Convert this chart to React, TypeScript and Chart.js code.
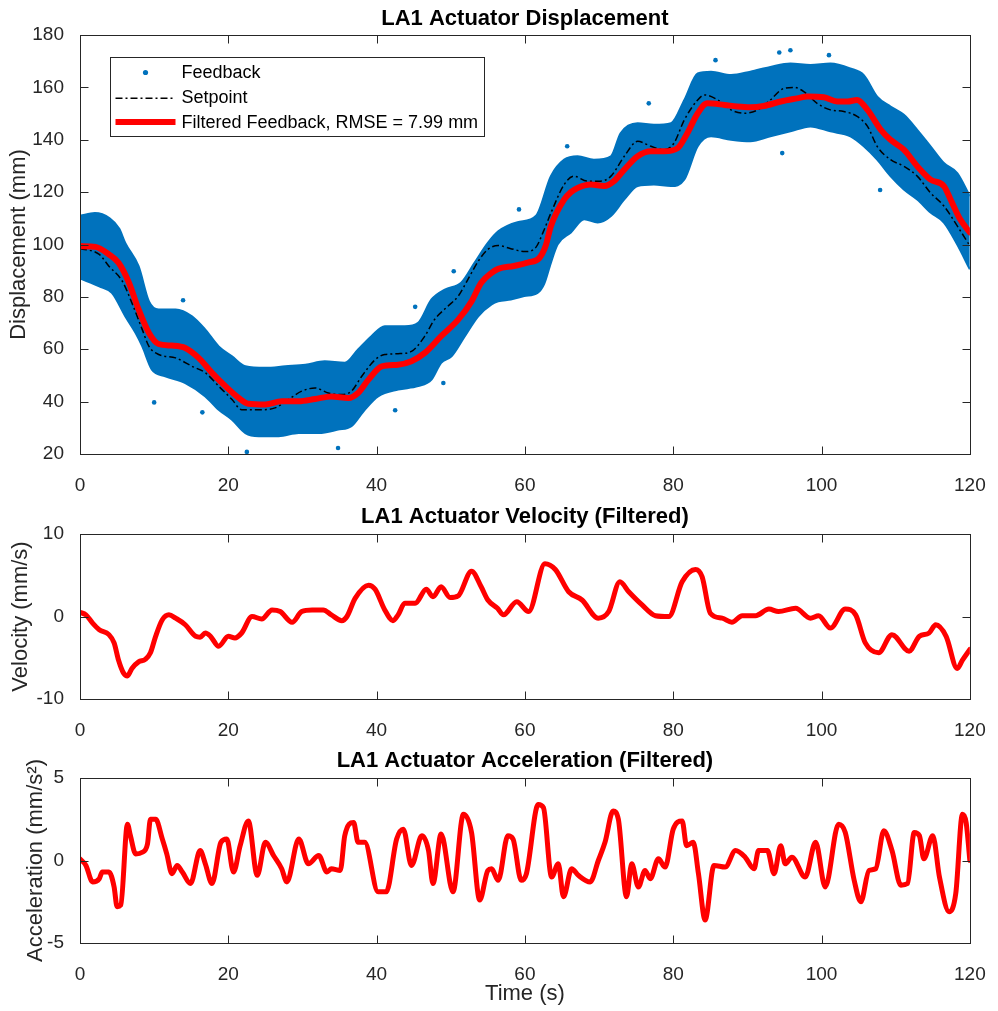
import React, { useEffect, useRef } from 'react';
import { Chart, registerables } from 'chart.js';

Chart.register(...registerables);

const FONT = '"Liberation Sans", Arial, Helvetica, sans-serif';
const AXIS = '#262626';
const BLUE = '#0072BD';
const RED = '#FF0000';

// ---------- tick labels ----------
const timeTicks = [0, 20, 40, 60, 80, 100, 120];
const displacementTicks = [20, 40, 60, 80, 100, 120, 140, 160, 180];
const velocityTicks = [-10, 0, 10];
const accelerationTicks = [-5, 0, 5];

// ---------- displacement: setpoint ----------
const setpointTime = [0, 2.6, 3.9, 5.7, 7, 8.4, 9.3, 10.6, 12.9, 15.1, 16.9, 18.7, 20.5, 21.8, 24.1, 26.3, 28.1, 29.9, 31.7, 33.5, 35.3, 36.6, 38, 39.8, 41.1, 42.9, 44.7, 46.5, 47.8, 49.6, 51, 52.3, 53.7, 55, 56.4, 58, 60, 61.5, 62.5, 63.5, 65.3, 66.6, 68.4, 70.2, 71.6, 73.4, 75.2, 77, 78.8, 80.1, 81.5, 83.3, 84.2, 86, 87.8, 89.6, 91.4, 93.1, 94.9, 96.3, 97.6, 99.4, 101.2, 103, 104.8, 106.2, 107.5, 109.3, 111.1, 112.9, 114.7, 116.5, 118.3, 120];
const setpointPos = [98.5, 96.2, 91.7, 86, 77.7, 67.5, 61.1, 58, 56.7, 53.5, 51, 45.9, 40.8, 36.9, 36.9, 37.6, 40.8, 44, 45.2, 43.3, 42.7, 44, 49.7, 56, 58, 58.3, 59.2, 65, 71.3, 76.4, 80.3, 86.6, 93.6, 98.1, 99.6, 98.5, 97.3, 99, 105, 112, 122.9, 126.1, 124.2, 124.2, 126.1, 133.7, 139.4, 137.5, 136.2, 138.7, 147.6, 155.2, 157.1, 155.2, 151.4, 150.1, 151.4, 155.2, 159.6, 160, 158.4, 153.9, 151.4, 150.8, 148.9, 145.1, 137.5, 132.4, 129.9, 126.1, 119.7, 114.7, 107.1, 99.5];

// ---------- displacement: filtered feedback ----------
const filteredTime = [0, 2.1, 3.9, 5.2, 6.6, 7.9, 9.3, 10.6, 12.4, 14.2, 16, 17.8, 19.6, 21.4, 22.7, 25, 27.2, 29.5, 31.7, 33.9, 36.2, 37.5, 38.9, 40.7, 42.9, 44.7, 46.5, 48.7, 51, 52.8, 54.1, 55.5, 56.4, 58.5, 60.5, 61.9, 62.8, 63.5, 65.3, 66.2, 67.1, 68.9, 70.7, 72, 73.4, 75.2, 77, 78.8, 80.6, 81.9, 83.3, 84.6, 86.9, 88.6, 90.4, 92.2, 94.5, 96.7, 98.1, 100.3, 102.1, 103.5, 104.8, 106.2, 108, 109.3, 111.1, 112.9, 114.7, 116.5, 117.4, 118.7, 120];
const filteredPos = [99.4, 99.1, 96.2, 93, 85.4, 75.2, 66.2, 62, 61.4, 60.5, 56.7, 51, 45.9, 41.4, 39.2, 38.9, 40.1, 40.1, 41, 42, 41.4, 43.3, 48.4, 53.5, 54.1, 55.4, 58.6, 65, 71.3, 78.3, 85.4, 89.2, 90.7, 91.8, 93.2, 94.7, 99.5, 107, 117.2, 120, 121.6, 122.9, 122.3, 124.2, 128.6, 133.7, 135.6, 135.6, 136.8, 142.5, 150.1, 153.9, 153.3, 152.7, 152.4, 152.9, 154.6, 155.8, 156.5, 156.2, 154.6, 154.6, 155.2, 151.4, 143.8, 140, 136.2, 129.9, 124.8, 122.3, 117.2, 109.6, 104.6];

// ---------- displacement: raw feedback cloud (upper / lower edge of the dense band) ----------
const feedbackUpperTime = [0, 2, 4, 5.3, 6.1, 7.9, 9.3, 10.6, 12.9, 15.1, 16.9, 18.7, 20.5, 22.3, 25, 27.7, 30.4, 33, 35.7, 37.5, 39.3, 41.1, 43.8, 45.6, 47.4, 49.2, 51.4, 53.2, 55, 56.4, 59, 61.5, 63.5, 65.3, 67.1, 69.3, 71.6, 72.9, 75.2, 77.4, 79.7, 81.5, 83.3, 85.1, 87.8, 90.4, 93.1, 95.8, 98.5, 101.2, 103.9, 105.7, 107.5, 109.3, 111.1, 112.9, 114.7, 116.5, 118.3, 120];
const feedbackUpper = [111, 112, 110, 106, 100.6, 91.7, 78.3, 75.2, 75.2, 72.6, 67.5, 61.1, 57.3, 53.5, 52.9, 53.5, 54.1, 55.4, 54.8, 59.9, 65, 68.8, 68.8, 70.1, 79, 82.8, 85.4, 93, 100.6, 105, 108.5, 111, 126.1, 132.4, 133.7, 132.4, 133.7, 142.5, 146.3, 145.7, 146.3, 155.2, 165.3, 166, 164.7, 166, 167.8, 169.1, 168.5, 169.1, 167.2, 164.7, 156.5, 152.7, 149.5, 143.8, 137.5, 131.1, 127.3, 118.5];
const feedbackLowerTime = [0, 2.6, 4.3, 6.1, 7.5, 8.4, 9.7, 11.5, 14.2, 16.9, 18.7, 20.5, 22.3, 24.1, 26.8, 29.5, 32.2, 34.8, 36.6, 38.4, 40.2, 42.9, 45.6, 47.4, 48.7, 50.1, 51.9, 53.7, 55.5, 56.4, 58.1, 59.9, 61.7, 62.6, 63.5, 64.4, 66.2, 68, 69.8, 71.6, 73.4, 75.2, 77.4, 79.7, 81.5, 83.3, 85.1, 87.8, 90.4, 93.1, 95.8, 98.5, 101.2, 103.9, 105.7, 107.5, 109.3, 111.1, 112.9, 114.7, 116.5, 118.3, 120];
const feedbackLower = [87, 84, 81.5, 72.6, 66.2, 61.1, 52.2, 49.7, 47.1, 42, 36.9, 33.1, 28, 26.8, 26.8, 28, 28, 29.3, 30.6, 36.9, 42, 44.6, 45.9, 48.4, 54.8, 57.3, 65, 72.6, 77.1, 78.3, 79, 80.3, 81.5, 85, 93, 100, 104.6, 109.6, 108.4, 110.9, 117.2, 122.3, 122.9, 122.3, 124.8, 137.5, 141.3, 140, 139.4, 141.3, 143.2, 145.1, 143.2, 141.3, 137.5, 132.4, 126.1, 121, 117.2, 112.2, 108.4, 100, 90.5];
const feedbackOutlierTime = [10, 13.9, 16.5, 22.5, 34.8, 42.5, 49, 50.4, 45.2, 59.2, 65.7, 76.7, 85.7, 94.3, 95.8, 101, 94.7, 107.9];
const feedbackOutlierPos = [39.7, 78.7, 35.9, 20.8, 22.3, 36.7, 47.1, 89.8, 76.2, 113.4, 137.5, 153.9, 170.4, 173.3, 174.2, 172.3, 134.9, 120.8];

// ---------- velocity ----------
const velocityTime = [0, 0.8, 1.7, 2.6, 3.9, 4.6, 5.2, 5.9, 6.4, 7, 7.9, 8.8, 9.5, 10.2, 11.1, 12, 12.9, 14.2, 15.6, 16.2, 16.9, 17.6, 18.7, 20, 20.9, 21.8, 23.2, 24.5, 25.9, 27, 28.6, 29.9, 31.3, 32.8, 33.9, 35.3, 36, 37.1, 38.9, 39.8, 41.1, 42.2, 42.9, 43.8, 45.2, 46.7, 47.6, 48.7, 49.9, 51, 52.8, 54.1, 55, 56.3, 57.1, 58.9, 60.5, 62.7, 64.1, 65.9, 67.7, 69.9, 71.3, 72.8, 74, 75.8, 77.6, 79.4, 81.2, 83, 83.9, 85, 86.6, 87.9, 89.3, 91.1, 92.9, 94.2, 96.5, 98.5, 99.6, 101.2, 103.2, 104.6, 105.9, 107.7, 109.5, 111.8, 113.2, 114.5, 115.4, 116.8, 118.3, 119, 120];
const velocityValues = [0.5, 0.2, -0.8, -1.6, -2.2, -3.2, -5.3, -6.9, -7.2, -6.3, -5.5, -5.2, -4.4, -2.4, -0.4, 0.2, -0.2, -1, -2.4, -2.5, -2, -2.4, -3.6, -2.4, -2.6, -2, 0, -0.3, 0.8, 0.6, -0.7, 0.6, 0.8, 0.8, 0.2, -0.5, 0, 2.2, 3.8, 3.3, 0.8, -0.5, 0.2, 1.6, 1.6, 3.3, 2.4, 3.6, 2.3, 2.5, 5.5, 3.6, 2, 1, 0.2, 1.8, 0.6, 6.4, 5.7, 3, 2, -0.2, 0.6, 4.2, 3, 1.4, 0.1, 0, 4.2, 5.7, 4.8, 0.4, -0.2, -0.7, 0.1, 0.1, 0.9, 0.6, 1, -0.2, 0.1, -1.4, 0.9, 0.2, -3.2, -4.4, -2.2, -4.2, -2.4, -2, -1, -2.4, -6.3, -5.3, -4];

// ---------- acceleration ----------
const accelTime = [0, 0.8, 1.7, 2.6, 3, 3.9, 4.6, 5, 5.5, 6.4, 6.8, 7.5, 8.4, 9.1, 9.5, 10.2, 11.1, 11.7, 12.4, 13.1, 13.8, 14.9, 16.2, 16.9, 17.8, 19, 19.8, 20.7, 21.6, 22.7, 23.9, 25, 26.1, 27.2, 27.9, 29.5, 30.8, 32.2, 33.3, 33.9, 35.1, 35.7, 36.9, 37.5, 38.4, 40.2, 41.3, 42.7, 43.6, 44.7, 46.1, 47, 47.6, 48.7, 50.3, 51.7, 52.8, 53.9, 55, 55.5, 56.4, 57.7, 58.4, 59.5, 60.2, 61.8, 62.5, 63.6, 64.5, 65.2, 66.3, 67.2, 68.8, 69.9, 70.8, 71.9, 72.6, 73.7, 74.4, 75.3, 76.2, 76.9, 78, 78.9, 80, 81.2, 81.8, 82.7, 83.4, 84.3, 85.5, 87, 88.4, 89.7, 90.9, 91.5, 92.7, 93.6, 94.5, 95.1, 96, 97.8, 99.2, 100.5, 102.3, 103.2, 104.4, 105.3, 106.4, 107.3, 108.4, 109.5, 110.7, 111.6, 112.5, 113.2, 113.8, 115, 115.9, 117.2, 118.1, 119, 119.5, 120];
const accelValues = [0.1, -0.3, -1.3, -1.1, -0.7, -0.7, -1.6, -2.8, -2.7, 2.2, 1.5, 0.4, 0.5, 1, 2.5, 2.5, 1.3, 0.4, -0.8, -0.3, -0.7, -1.4, 0.6, -0.2, -1.4, 1.1, 1.3, -0.7, 0.9, 2.4, -0.9, 1.1, 0.3, -0.5, -1.3, 1.3, -0.2, 0.3, -0.7, -0.5, -0.6, 1.5, 2.3, 1.1, 1.1, -1.9, -1.9, 1.3, 1.9, -0.3, 1.5, 0.6, -1.4, 1.6, -1.9, 2.8, 1.7, -2.4, -0.6, -0.5, -1.2, 1.5, 1.3, -1.2, -0.8, 3.4, 3.2, -1, -0.2, -2.2, -0.5, -0.9, -1.3, 0, 1.1, 3, 2.5, -2.2, -0.2, -1.6, -0.6, -1.1, 0.1, -0.4, 1.9, 2.4, 0.9, 1.1, -0.8, -3.6, -0.3, -0.4, 0.6, 0.2, -0.5, 0.6, 0.6, -0.8, 0.9, -0.2, 0.2, -1, 1.1, -1.6, 2.2, 1.7, -1.2, -2.5, -0.6, -0.5, 1.8, 0.6, -1.5, -1.4, 1.7, 1.5, 0.1, 1.5, -1, -3.1, -2, 2.8, 2.3, 0];

const zip = (xs: number[], ys: number[]) => xs.map((x, i) => ({ x, y: ys[i] }));

// MATLAB-like box with inward ticks on all four sides
const boxPlugin = {
  id: 'matlabBox',
  afterDraw(chart: any) {
    const { ctx, chartArea: a, scales } = chart;
    const L = Math.round(a.left) + 0.5;
    const R = Math.round(a.right) + 0.5;
    const T = Math.round(a.top) + 0.5;
    const B = Math.round(a.bottom) + 0.5;
    const len = 8;
    ctx.save();
    ctx.strokeStyle = AXIS;
    ctx.lineWidth = 1;
    ctx.beginPath();
    scales.x.ticks.forEach((t: any) => {
      const px = Math.round(scales.x.getPixelForValue(t.value)) + 0.5;
      ctx.moveTo(px, B); ctx.lineTo(px, B - len);
      ctx.moveTo(px, T); ctx.lineTo(px, T + len);
    });
    scales.y.ticks.forEach((t: any) => {
      const py = Math.round(scales.y.getPixelForValue(t.value)) + 0.5;
      ctx.moveTo(L, py); ctx.lineTo(L + len, py);
      ctx.moveTo(R, py); ctx.lineTo(R - len, py);
    });
    ctx.stroke();
    ctx.strokeRect(L, T, R - L, B - T);
    ctx.restore();
  },
};

// MATLAB-like legend inside the axes (top-left)
const legendPlugin = {
  id: 'matlabLegend',
  afterDraw(chart: any) {
    const { ctx, chartArea: a } = chart;
    const entries = chart.data.datasets.filter((d: any) => d.legendKind).sort((p: any, q: any) => p.legendRank - q.legendRank);
    if (!entries.length) return;
    ctx.save();
    ctx.font = `18px ${FONT}`;
    const textW = Math.max(...entries.map((e: any) => ctx.measureText(e.label).width));
    const left = Math.round(a.left + 30) + 0.5;
    const top = Math.round(a.top + 22) + 0.5;
    const w = Math.round(71 + textW + 6);
    const h = 79;
    ctx.fillStyle = '#ffffff';
    ctx.fillRect(left, top, w, h);
    ctx.strokeStyle = AXIS;
    ctx.lineWidth = 1;
    ctx.strokeRect(left, top, w, h);
    const rows = [15.5, 40.8, 66];
    entries.forEach((e: any, i: number) => {
      const cy = top + rows[i];
      if (e.legendKind === 'dot') {
        ctx.fillStyle = e.pointBackgroundColor || BLUE;
        ctx.beginPath();
        ctx.arc(left + 35, cy - 0.5, 2.6, 0, Math.PI * 2);
        ctx.fill();
      } else {
        ctx.strokeStyle = e.borderColor;
        ctx.lineWidth = e.borderWidth;
        ctx.setLineDash(e.borderDash || []);
        ctx.lineCap = 'butt';
        ctx.beginPath();
        const ly = e.borderWidth > 3 ? cy - 1.5 : cy;
        ctx.moveTo(left + 5, ly);
        ctx.lineTo(left + 65, ly);
        ctx.stroke();
        ctx.setLineDash([]);
      }
      ctx.fillStyle = '#000000';
      ctx.textAlign = 'left';
      ctx.textBaseline = 'middle';
      ctx.fillText(e.label, left + 71, cy);
    });
    ctx.restore();
  },
};

interface PanelSpec {
  title: string;
  titlePad: { top: number; bottom: number };
  yMin: number;
  yMax: number;
  yTicks: number[];
  yLabel: string;
  yLabelPad: number;
  xLabel?: string;
  xHeight: number;
  datasets: any[];
  legend?: boolean;
}

function buildConfig(p: PanelSpec): any {
  return {
    type: 'line',
    data: { datasets: p.datasets },
    options: {
      responsive: false,
      maintainAspectRatio: false,
      animation: false,
      events: [],
      layout: { padding: { left: 0, right: 26, top: 0, bottom: 0 } },
      plugins: {
        legend: { display: false },
        tooltip: { enabled: false },
        title: {
          display: true,
          text: p.title,
          fullSize: false,
          color: '#000000',
          font: { family: FONT, size: 22, weight: 'bold', lineHeight: 1.2 },
          padding: p.titlePad,
        },
      },
      scales: {
        x: {
          type: 'linear',
          min: 0,
          max: 120,
          afterBuildTicks: (s: any) => { s.ticks = timeTicks.map((value) => ({ value })); },
          afterFit: (s: any) => { s.height = p.xHeight; },
          grid: { display: false },
          border: { display: false },
          ticks: { color: AXIS, font: { family: FONT, size: 19, lineHeight: 1.2 }, padding: 12.3, maxRotation: 0, autoSkip: false },
          title: p.xLabel
            ? { display: true, text: p.xLabel, color: AXIS, font: { family: FONT, size: 22, lineHeight: 1.2 }, padding: { top: 0, bottom: 3.8 } }
            : { display: false },
        },
        y: {
          type: 'linear',
          min: p.yMin,
          max: p.yMax,
          afterBuildTicks: (s: any) => { s.ticks = p.yTicks.map((value) => ({ value })); },
          afterFit: (s: any) => { s.width = 80; },
          grid: { display: false },
          border: { display: false },
          ticks: { color: AXIS, font: { family: FONT, size: 19, lineHeight: 1.2 }, padding: 8, autoSkip: false },
          title: { display: true, text: p.yLabel, color: AXIS, font: { family: FONT, size: 22, lineHeight: 1.2 }, padding: { top: p.yLabelPad, bottom: 0 } },
        },
      },
    },
    plugins: p.legend ? [boxPlugin, legendPlugin] : [boxPlugin],
  };
}

const redLine = (data: any[], width: number) => ({
  label: 'filtered',
  data,
  borderColor: RED,
  backgroundColor: RED,
  borderWidth: width,
  pointRadius: 0,
  cubicInterpolationMode: 'monotone',
  borderJoinStyle: 'round',
  borderCapStyle: 'round',
  fill: false,
});

const displacementDatasets = [
  {
    ...redLine(zip(filteredTime, filteredPos), 6),
    label: 'Filtered Feedback, RMSE = 7.99 mm',
    legendKind: 'line',
    legendRank: 3,
    order: 0,
  },
  {
    label: 'Setpoint',
    data: zip(setpointTime, setpointPos),
    borderColor: '#000000',
    borderWidth: 1.5,
    borderDash: [7, 3, 2, 3],
    pointRadius: 0,
    cubicInterpolationMode: 'monotone',
    fill: false,
    legendKind: 'line',
    legendRank: 2,
    order: 1,
  },
  {
    type: 'scatter',
    label: 'Feedback outliers',
    data: zip(feedbackOutlierTime, feedbackOutlierPos),
    showLine: false,
    pointRadius: 2.3,
    pointBorderWidth: 0,
    pointBackgroundColor: BLUE,
    order: 2,
  },
  {
    label: 'Feedback',
    data: zip(feedbackUpperTime, feedbackUpper),
    borderColor: BLUE,
    backgroundColor: BLUE,
    pointBackgroundColor: BLUE,
    borderWidth: 2,
    pointRadius: 0,
    cubicInterpolationMode: 'monotone',
    fill: '+1',
    legendKind: 'dot',
    legendRank: 1,
    order: 3,
  },
  {
    label: 'Feedback lower',
    data: zip(feedbackLowerTime, feedbackLower),
    borderColor: BLUE,
    borderWidth: 2,
    pointRadius: 0,
    cubicInterpolationMode: 'monotone',
    fill: false,
    order: 4,
  },
];

const panels: { top: number; height: number; spec: PanelSpec }[] = [
  {
    top: 0,
    height: 500,
    spec: {
      title: 'LA1 Actuator Displacement',
      titlePad: { top: 5.8, bottom: 2.8 },
      yMin: 20,
      yMax: 180,
      yTicks: displacementTicks,
      yLabel: 'Displacement (mm)',
      yLabelPad: 5.9,
      xHeight: 46,
      datasets: displacementDatasets,
      legend: true,
    },
  },
  {
    top: 495,
    height: 250,
    spec: {
      title: 'LA1 Actuator Velocity (Filtered)',
      titlePad: { top: 8.3, bottom: 4.3 },
      yMin: -10,
      yMax: 10,
      yTicks: velocityTicks,
      yLabel: 'Velocity (mm/s)',
      yLabelPad: 8.2,
      xHeight: 46,
      datasets: [redLine(zip(velocityTime, velocityValues), 5)],
    },
  },
  {
    top: 740,
    height: 271,
    spec: {
      title: 'LA1 Actuator Acceleration (Filtered)',
      titlePad: { top: 7.3, bottom: 4.3 },
      yMin: -5,
      yMax: 5,
      yTicks: accelerationTicks,
      yLabel: 'Acceleration (mm/s²)',
      yLabelPad: 22.5,
      xLabel: 'Time (s)',
      xHeight: 68,
      datasets: [redLine(zip(accelTime, accelValues), 5)],
    },
  },
];

function Panel({ top, height, spec }: { top: number; height: number; spec: PanelSpec }) {
  const ref = useRef<HTMLCanvasElement>(null);
  useEffect(() => {
    if (!ref.current) return;
    const chart = new Chart(ref.current, buildConfig(spec));
    return () => chart.destroy();
  }, [spec]);
  return (
    <canvas
      ref={ref}
      width={998}
      height={height}
      style={{ position: 'absolute', left: 0, top, width: 998, height, display: 'block' }}
    />
  );
}

export default function App() {
  return (
    <div style={{ position: 'absolute', left: 0, top: 0, width: 998, height: 1011, background: '#ffffff', overflow: 'hidden' }}>
      {panels.map((p, i) => (
        <Panel key={i} top={p.top} height={p.height} spec={p.spec} />
      ))}
    </div>
  );
}
